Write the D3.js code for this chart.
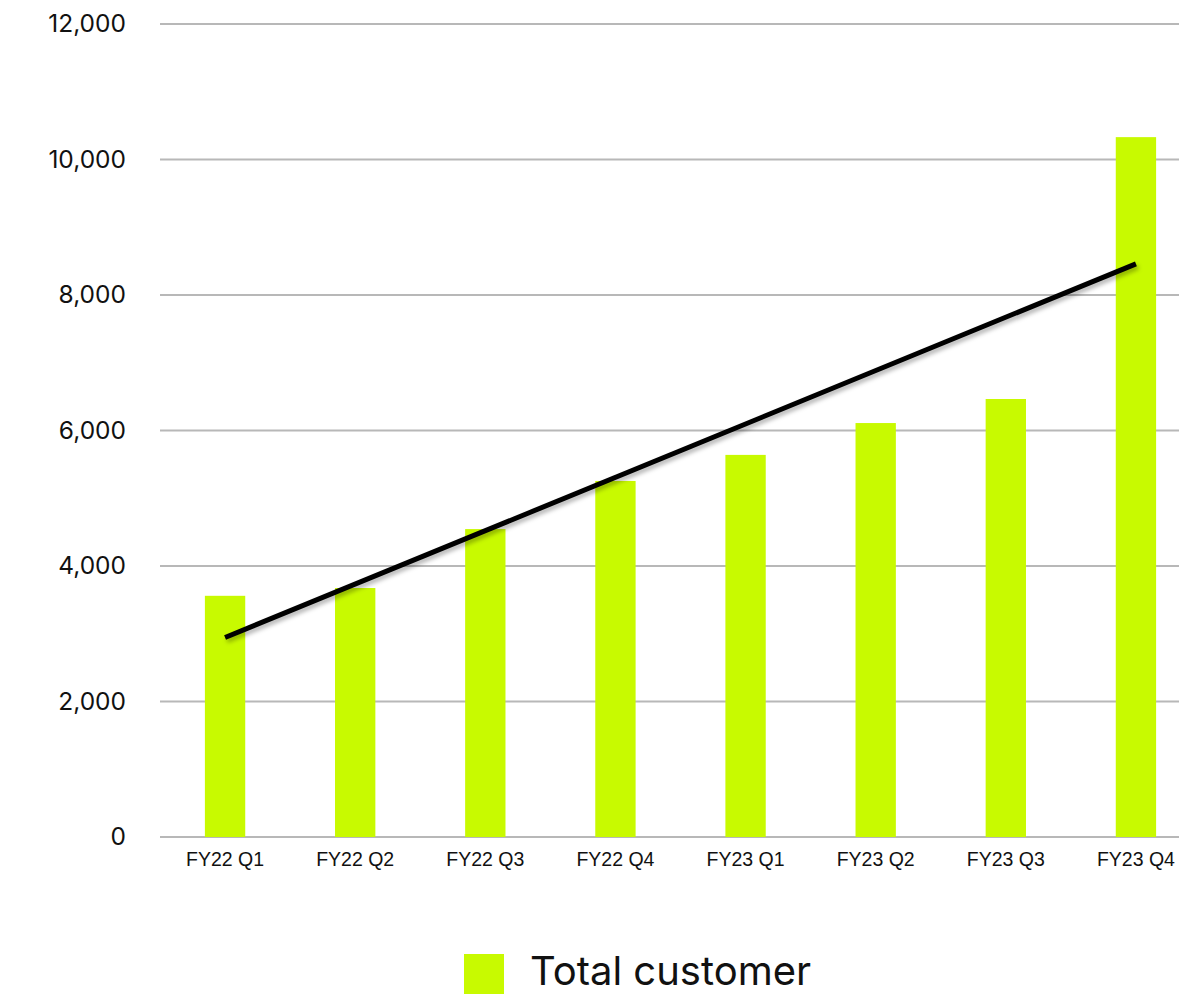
<!DOCTYPE html>
<html><head><meta charset="utf-8">
<script src="https://cdn.jsdelivr.net/npm/d3@7"></script>
<style>html,body{margin:0;padding:0;background:#fff;}svg{display:block;}</style>
</head><body>
<script>
const categories = ["FY22 Q1","FY22 Q2","FY22 Q3","FY22 Q4","FY23 Q1","FY23 Q2","FY23 Q3","FY23 Q4"];
const totalCustomer = [3560, 3675, 4545, 5255, 5640, 6110, 6465, 10330];
const trendEnds = [2945, 8460];
const yTicks = [0, 2000, 4000, 6000, 8000, 10000, 12000];
const seriesName = "Total customer";

const W = 1179, H = 996;
const svg = d3.select("body").append("svg").attr("width", W).attr("height", H);

const defs = svg.append("defs");
const f = defs.append("filter").attr("id","sh").attr("x","-10%").attr("y","-50%").attr("width","120%").attr("height","200%");
f.append("feDropShadow").attr("dx",2).attr("dy",3).attr("stdDeviation",2).attr("flood-color","#000").attr("flood-opacity",0.3);

const x = d3.scaleBand().domain(categories).range([160, 1201]).paddingInner(0.69).paddingOuter(0.345);
const y = d3.scaleLinear().domain([0, 12000]).range([837, 24]);

// gridlines
svg.append("g").selectAll("line").data(yTicks).join("line")
  .attr("x1", 160).attr("x2", W)
  .attr("y1", d => y(d)).attr("y2", d => y(d))
  .attr("stroke", "#b8b8b8").attr("stroke-width", 2);

// y labels
const yAxis = d3.axisLeft(y).tickValues(yTicks).tickFormat(d3.format(",")).tickSize(0).tickPadding(0);
const ga = svg.append("g").attr("transform","translate(126,0)").call(yAxis);
ga.select(".domain").remove();
ga.selectAll("text").attr("font-family","Inter, sans-serif").attr("font-size",24.5).attr("fill","#111");

// bars
svg.append("g").selectAll("rect").data(totalCustomer).join("rect")
  .attr("x", (d,i) => x(categories[i]))
  .attr("width", x.bandwidth())
  .attr("y", d => y(d))
  .attr("height", d => y(0) - y(d))
  .attr("fill", "#c8fa00");

// x labels
const xAxis = d3.axisBottom(x).tickSize(0).tickPadding(0);
const gx = svg.append("g").attr("transform","translate(0,852)").call(xAxis);
gx.select(".domain").remove();
gx.selectAll("text").attr("font-family","'Liberation Sans', Arial, sans-serif").attr("font-size",19.5).attr("fill","#111");

// trend line
const cx = i => x(categories[i]) + x.bandwidth()/2;
svg.append("line")
  .attr("x1", cx(0)).attr("y1", y(trendEnds[0]))
  .attr("x2", cx(categories.length-1)).attr("y2", y(trendEnds[1]))
  .attr("stroke","#000").attr("stroke-width",5).attr("filter","url(#sh)");

// legend
svg.append("rect").attr("x",464).attr("y",954).attr("width",40).attr("height",40).attr("fill","#c8fa00");
svg.append("text").attr("x",530).attr("y",985).text(seriesName)
  .attr("font-family","Inter, sans-serif").attr("font-size",40).attr("fill","#111");
</script>
</body></html>
